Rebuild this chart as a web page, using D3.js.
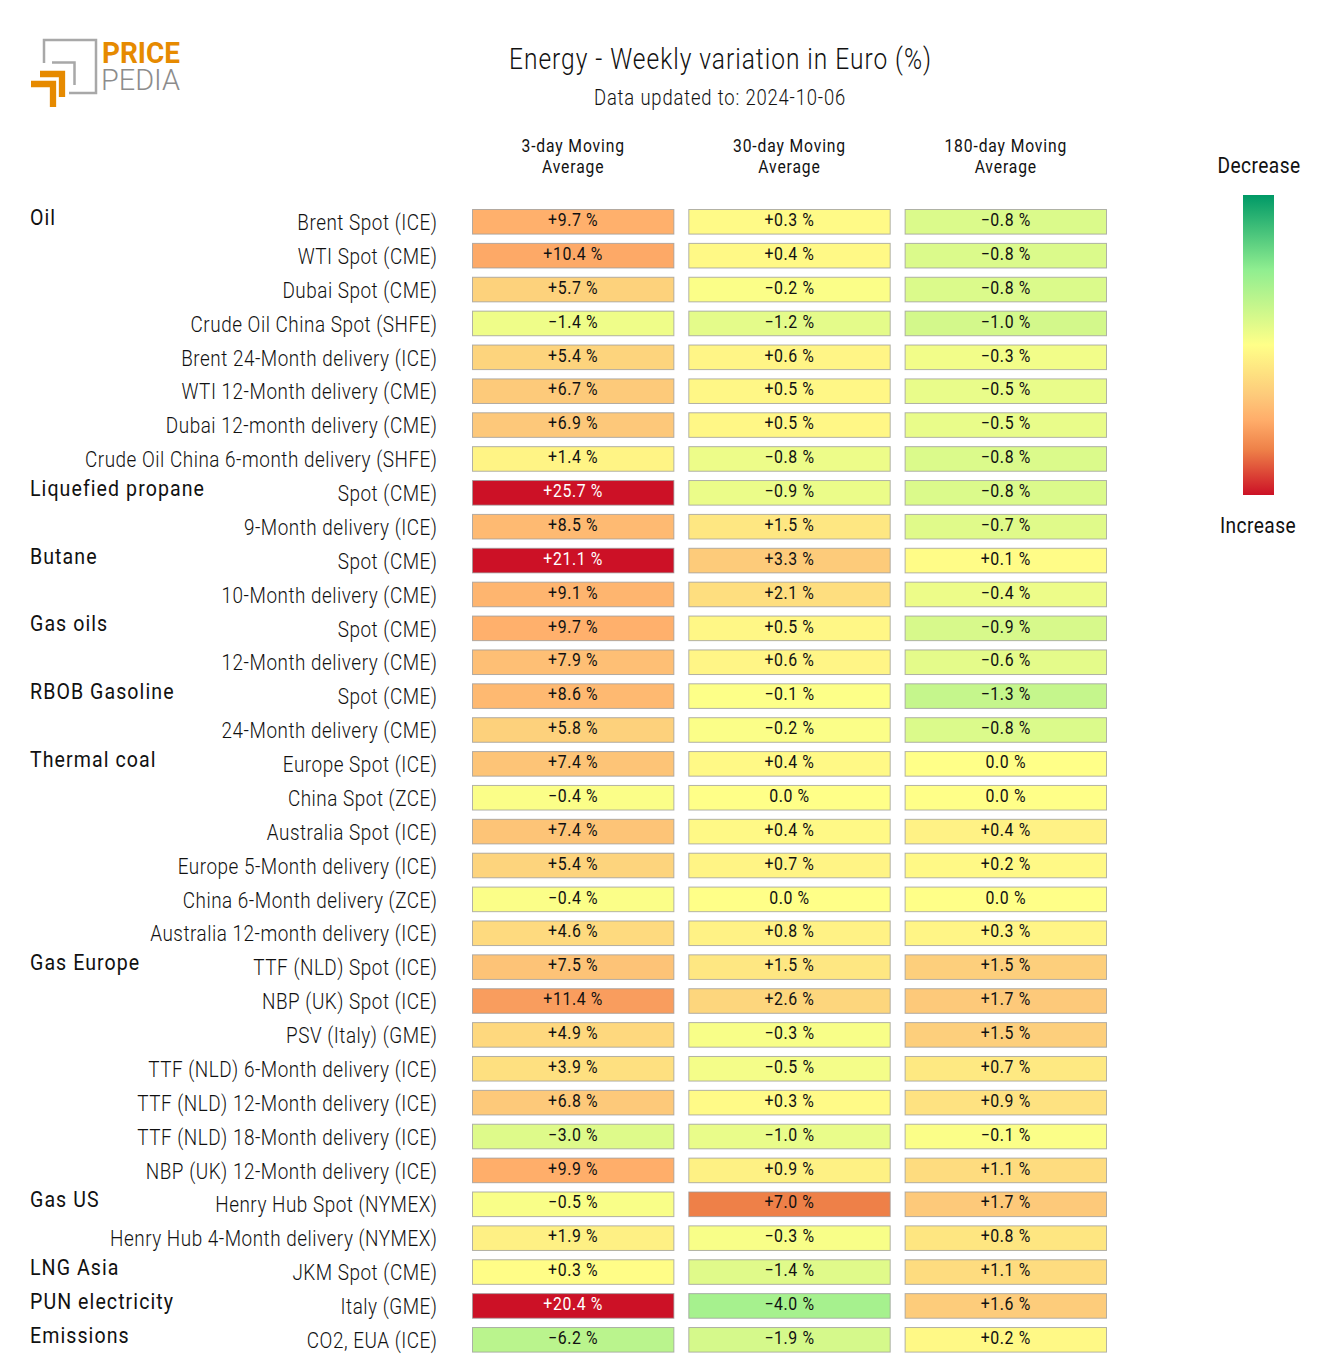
<!DOCTYPE html>
<html>
<head>
<meta charset="utf-8">
<script src="https://cdn.jsdelivr.net/npm/d3@7"></script>
<style>
body { margin: 0; background: #fff; }
svg { display: block; }
text { font-family: Roboto, sans-serif; fill: #111; }
</style>
</head>
<body>
<svg id="chart" width="1320" height="1357"></svg>
<script>
"use strict";

var columns = ["3-day Moving|Average", "30-day Moving|Average", "180-day Moving|Average"];
var columnMax = [20, 10, 5];

var rows = [
  "Brent Spot (ICE)", "WTI Spot (CME)", "Dubai Spot (CME)", "Crude Oil China Spot (SHFE)",
  "Brent 24-Month delivery (ICE)", "WTI 12-Month delivery (CME)", "Dubai 12-month delivery (CME)",
  "Crude Oil China 6-month delivery (SHFE)", "Spot (CME)", "9-Month delivery (ICE)", "Spot (CME)",
  "10-Month delivery (CME)", "Spot (CME)", "12-Month delivery (CME)", "Spot (CME)",
  "24-Month delivery (CME)", "Europe Spot (ICE)", "China Spot (ZCE)", "Australia Spot (ICE)",
  "Europe 5-Month delivery (ICE)", "China 6-Month delivery (ZCE)", "Australia 12-month delivery (ICE)",
  "TTF (NLD) Spot (ICE)", "NBP (UK) Spot (ICE)", "PSV (Italy) (GME)", "TTF (NLD) 6-Month delivery (ICE)",
  "TTF (NLD) 12-Month delivery (ICE)", "TTF (NLD) 18-Month delivery (ICE)", "NBP (UK) 12-Month delivery (ICE)",
  "Henry Hub Spot (NYMEX)", "Henry Hub 4-Month delivery (NYMEX)", "JKM Spot (CME)", "Italy (GME)", "CO2, EUA (ICE)"
];

var values3 = [9.7, 10.4, 5.7, -1.4, 5.4, 6.7, 6.9, 1.4, 25.7, 8.5, 21.1, 9.1, 9.7, 7.9, 8.6, 5.8, 7.4,
  -0.4, 7.4, 5.4, -0.4, 4.6, 7.5, 11.4, 4.9, 3.9, 6.8, -3.0, 9.9, -0.5, 1.9, 0.3, 20.4, -6.2];
var values30 = [0.3, 0.4, -0.2, -1.2, 0.6, 0.5, 0.5, -0.8, -0.9, 1.5, 3.3, 2.1, 0.5, 0.6, -0.1, -0.2, 0.4,
  0.0, 0.4, 0.7, 0.0, 0.8, 1.5, 2.6, -0.3, -0.5, 0.3, -1.0, 0.9, 7.0, -0.3, -1.4, -4.0, -1.9];
var values180 = [-0.8, -0.8, -0.8, -1.0, -0.3, -0.5, -0.5, -0.8, -0.8, -0.7, 0.1, -0.4, -0.9, -0.6, -1.3, -0.8, 0.0,
  0.0, 0.4, 0.2, 0.0, 0.3, 1.5, 1.7, 1.5, 0.7, 0.9, -0.1, 1.1, 1.7, 0.8, 1.1, 1.6, 0.2];
var valueColumns = [values3, values30, values180];

var groupNames = ["Oil", "Liquefied propane", "Butane", "Gas oils", "RBOB Gasoline", "Thermal coal",
  "Gas Europe", "Gas US", "LNG Asia", "PUN electricity", "Emissions"];
var groupFirstRow = [0, 8, 10, 12, 14, 16, 22, 29, 31, 32, 33];

var colorStops = [0, 0.25, 0.5, 0.67, 0.75, 0.85, 1];
var colorValues = ["#009966", "#90ee90", "#ffff88", "#fdc97a", "#ffad6a", "#ee8048", "#cc1126"];

var svg = d3.select("#chart");

var y = d3.scaleBand().domain(d3.range(rows.length)).range([209.5, 1352.1]).paddingInner(0.274);
var x = d3.scaleBand().domain(d3.range(columns.length)).range([472.5, 1106.5]).paddingInner(0.069);
var color = d3.scaleLinear().domain(colorStops).range(colorValues).clamp(true);

function cellColor(v, c) {
  return color(0.5 + v / (2 * columnMax[c]));
}
function fmt(v) {
  if (v === 0) return "0.0 %";
  return (v > 0 ? "+" : "\u2212") + Math.abs(v).toFixed(1) + " %";
}
// the source picture has tall narrow glyphs, so squeeze x and open the tracking
function squeezed(sel, px, py, sx, spacing) {
  return sel.attr("transform", "translate(" + px + "," + py + ") scale(" + sx + ",1)")
    .style("letter-spacing", spacing + "px");
}

// logo
var logo = svg.append("g");
logo.append("path").attr("d", "M44 63V40H96V93H69").attr("fill", "none").attr("stroke", "#a8a8a8").attr("stroke-width", 2.5);
logo.append("path").attr("d", "M52 62.5H74.5V85").attr("fill", "none").attr("stroke", "#a8a8a8").attr("stroke-width", 2.5);
logo.append("path").attr("d", "M40 74H62V97M31 84H53V107").attr("fill", "none").attr("stroke", "#e68a00").attr("stroke-width", 6.3);
logo.append("text").attr("x", 102).attr("y", 63).attr("font-size", 29).attr("font-weight", 700)
  .style("fill", "#e68a00").attr("textLength", 78).attr("lengthAdjust", "spacingAndGlyphs").text("PRICE");
logo.append("text").attr("x", 101).attr("y", 90).attr("font-size", 29).attr("font-weight", 300)
  .style("fill", "#8c8c8c").attr("textLength", 79).attr("lengthAdjust", "spacingAndGlyphs").text("PEDIA");

// titles
svg.append("text").attr("x", 720.5).attr("y", 68.5).attr("text-anchor", "middle").attr("font-size", 30)
  .attr("font-weight", 300).attr("textLength", 423).attr("lengthAdjust", "spacingAndGlyphs")
  .style("letter-spacing", "1.2px").text("Energy - Weekly variation in Euro (%)");
svg.append("text").attr("x", 720).attr("y", 105).attr("text-anchor", "middle").attr("font-size", 22)
  .attr("font-weight", 300).attr("textLength", 252).attr("lengthAdjust", "spacingAndGlyphs")
  .style("letter-spacing", "1px").text("Data updated to: 2024-10-06");

// column heads
columns.forEach(function (c, i) {
  c.split("|").forEach(function (line, j) {
    squeezed(svg.append("text"), x(i) + x.bandwidth() / 2, 151.5 + j * 21.5, 0.87, 1)
      .attr("text-anchor", "middle").attr("font-size", 18).attr("font-weight", 400).text(line);
  });
});

// row labels
svg.selectAll("text.row").data(rows).enter().append("text").attr("class", "row")
  .attr("transform", function (d, i) {
    return "translate(437.5," + (y(i) + y.bandwidth() / 2 + 8.2) + ") scale(0.86,1)";
  })
  .style("letter-spacing", "0.6px")
  .attr("text-anchor", "end").attr("font-size", 22).attr("font-weight", 300).text(function (d) { return d; });

// group labels
svg.selectAll("text.group").data(groupNames).enter().append("text").attr("class", "group")
  .attr("transform", function (d, i) {
    return "translate(30," + (y(groupFirstRow[i]) + y.bandwidth() / 2 + 3) + ") scale(0.89,1)";
  })
  .style("letter-spacing", "1.2px")
  .attr("font-size", 22).attr("font-weight", 400).text(function (d) { return d; });

// cells
valueColumns.forEach(function (vals, c) {
  var g = svg.append("g").attr("transform", "translate(" + x(c) + ",0)");
  g.selectAll("rect").data(vals).enter().append("rect")
    .attr("y", function (d, i) { return y(i); })
    .attr("width", x.bandwidth()).attr("height", y.bandwidth())
    .attr("fill", function (d) { return cellColor(d, c); })
    .attr("stroke", "#999").attr("stroke-opacity", 0.75).attr("stroke-width", 1);
  g.selectAll("text").data(vals).enter().append("text")
    .attr("transform", function (d, i) {
      return "translate(" + (x.bandwidth() / 2) + "," + (y(i) + y.bandwidth() / 2 + 4.2) + ") scale(0.88,1)";
    })
    .style("letter-spacing", "0.7px")
    .attr("text-anchor", "middle").attr("font-size", 18)
    .style("fill", function (d) { return cellColor(d, c) === color(1) ? "#fff" : "#111"; })
    .text(fmt);
});

// legend
var defs = svg.append("defs");
var grad = defs.append("linearGradient").attr("id", "legendGrad").attr("x1", 0).attr("y1", 0).attr("x2", 0).attr("y2", 1);
colorStops.forEach(function (s, i) {
  grad.append("stop").attr("offset", s).attr("stop-color", colorValues[i]);
});
svg.append("rect").attr("x", 1243).attr("y", 195).attr("width", 31).attr("height", 300).attr("fill", "url(#legendGrad)");
squeezed(svg.append("text"), 1259, 173, 0.87, 0.5).attr("text-anchor", "middle").attr("font-size", 22).text("Decrease");
squeezed(svg.append("text"), 1258, 533, 0.87, 0.5).attr("text-anchor", "middle").attr("font-size", 22).text("Increase");
</script>
</body>
</html>
